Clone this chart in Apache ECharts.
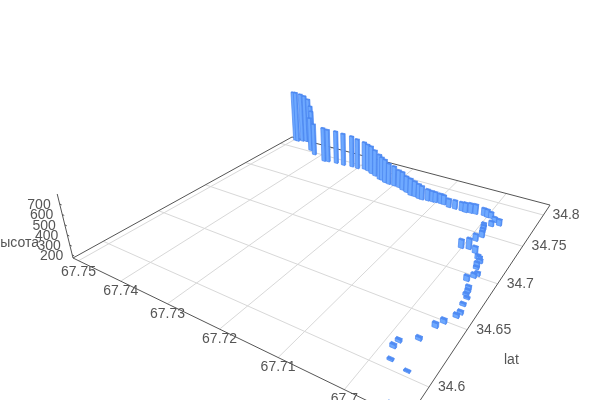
<!DOCTYPE html><html><head><meta charset="utf-8"><style>html,body{margin:0;background:#fff}#c{width:600px;height:400px}</style>
<script src="https://cdn.jsdelivr.net/npm/echarts@6/dist/echarts.min.js"></script></head><body><div id="c"></div>
<script>
const lngValues=[67.7497,67.7490,67.7481,67.7473,67.7463,67.7456,67.7448,67.7435,67.7415,67.7379,67.7370,67.7351,67.7333,67.7314,67.7300,67.7286,67.7276,67.7264,67.7252,67.7237,
67.7231,67.7221,67.7211,67.7199,67.7188,67.7177,67.7166,67.7154,67.7145,67.7135,67.7128,67.7117,67.7108,67.7102,67.7092,67.7085,67.7073,67.7061,67.7048,67.7040,
67.7031,67.7022,67.7007,67.7000,67.6993,67.6983,67.6972,67.6983,67.6993,67.6990,67.6988,67.6984,67.6989,67.6989,67.7001,67.6976,67.6966,67.6962,67.6959,67.6959,
67.6958,67.6950,67.6953,67.6959,67.6949,67.6947,67.6946,67.6942,67.6941,67.6937,67.6939,67.6949,67.6955,67.6963,67.6984,67.6985,67.6977,67.6950,67.6944];
const latValues=[34.8143,34.8140,34.8164,34.8177,34.8176,34.8167,34.8132,34.8031,34.7971,34.7905,34.7915,34.7927,34.7927,34.7941,34.7937,34.7957,34.7945,34.7916,34.7894,34.7860,
34.7856,34.7833,34.7824,34.7823,34.7817,34.7794,34.7776,34.7749,34.7748,34.7735,34.7733,34.7742,34.7746,34.7751,34.7754,34.7753,34.7734,34.7736,34.7737,34.7731,
34.7742,34.7748,34.7757,34.7749,34.7751,34.7710,34.7682,34.7642,34.7603,34.7563,34.7521,34.7465,34.7398,34.7275,34.7260,34.7252,34.7195,34.7182,34.7159,34.7101,
34.7083,34.7018,34.6985,34.6930,34.6858,34.6827,34.6787,34.6761,34.6689,34.6609,34.6569,34.6485,34.6426,34.6284,34.6211,34.6156,34.6064,34.6037,34.5815];
const heightValues=[788,792,771,753,722,645,604,577,551,574,560,558,551,537,521,493,485,493,472,458,
437,436,408,393,367,374,350,357,340,331,321,294,286,281,275,272,261,262,261,271,
272,272,249,252,233,222,234,221,211,218,218,231,238,278,255,236,212,212,205,221,
194,204,211,221,200,193,193,186,193,199,202,208,213,198,195,201,185,180,165];
const lngTicks=[67.7,67.71,67.72,67.73,67.74,67.75];
const latTicks=[34.6,34.65,34.7,34.75,34.8];
const heightTicks=[200,300,400,500,600,700];
const lngExtent=[67.6916,67.7514],latExtent=[34.576,34.818],heightExtent=[169,794];

// perspective view of the 3D box
const H={a:214.9,b:352.4,c:73,d:39.1,e:-58.4,f:258,g:-.2927,h:.4568,vx:368,vy:1454,lam:-.0508};
const toU=l=>(lngExtent[1]-l)/(lngExtent[1]-lngExtent[0]);
const toV=l=>(l-latExtent[0])/(latExtent[1]-latExtent[0]);
const toW=z=>(z-heightExtent[0])/(heightExtent[1]-heightExtent[0]);
function proj(u,v,w){const L=H.lam*w,W=H.g*u+H.h*v+1+L;
 return [(H.a*u+H.b*v+H.c+H.vx*L)/W,(H.d*u+H.e*v+H.f+H.vy*L)/W];}
const depth=(lng,lat)=>H.g*toU(lng)+H.h*toV(lat);
const barTable=lngValues.map((l,i)=>[l,latValues[i],heightValues[i]]).sort((p,q)=>depth(q[0],q[1])-depth(p[0],p[1]));

const GRID='#d8d8d8',AXIS='#555',TXT='#555',FF='"Liberation Sans",Arial,sans-serif',FONT='14px '+FF;
const line=(p,q,c,w)=>({type:'line',silent:true,shape:{x1:p[0],y1:p[1],x2:q[0],y2:q[1]},style:{stroke:c,lineWidth:w}});
const text=(s,x,y,align)=>({type:'text',silent:true,style:{text:s,x,y,align,verticalAlign:'middle',fill:TXT,font:FONT}});
const BU=.0068,BV=.0035;
function renderBar(params,api){
 const u=toU(api.value(0)),v=toV(api.value(1)),w=toW(api.value(2));
 const c=(du,dv,t)=>proj(u+du*BU,v+dv*BV,t);
 const face=(pts,fill)=>({type:'polygon',silent:true,shape:{points:pts},style:{fill,stroke:'#4a86f0',lineWidth:.7}});
 return {type:'group',children:[
  face([c(1,-1,0),c(1,1,0),c(1,1,w),c(1,-1,w)],'#5a97fa'),
  face([c(-1,-1,0),c(1,-1,0),c(1,-1,w),c(-1,-1,w)],'#6ea9ff'),
  face([c(-1,-1,w),c(1,-1,w),c(1,1,w),c(-1,1,w)],'#4f8cf5')]};
}
const option={animation:false,backgroundColor:'#fff',series:[
 {type:'custom',coordinateSystem:'none',silent:true,z:1,data:lngTicks,renderItem(p,api){
   const l=api.value(0),u=toU(l),q=proj(u,0,0);
   return {type:'group',children:[line(proj(u,1,0),q,GRID,1),text(String(l),q[0]+0,q[1]+(l===67.75?11:10),'center')]};}},
 {type:'custom',coordinateSystem:'none',silent:true,z:1,data:latTicks,renderItem(p,api){
   const l=api.value(0),v=toV(l),q=proj(1,v,0);
   return {type:'group',children:[line(proj(0,v,0),q,GRID,1),text(String(l),q[0]+9,q[1],'left')]};}},
 {type:'custom',coordinateSystem:'none',silent:true,z:2,data:[0],renderItem(){
   const A=proj(0,0,0),C=proj(1,0,0),B=proj(1,1,0),D=proj(0,1,0);
   return {type:'group',children:[line(A,C,AXIS,1),line(C,B,AXIS,1),line(B,D,AXIS,1),line(D,A,AXIS,1),line(A,proj(0,0,1),AXIS,1),
     text('lat',504,360.5,'left'),
     text('высота',39,243,'right')]};}},
 {type:'custom',coordinateSystem:'none',silent:true,z:2,data:heightTicks,renderItem(p,api){
   const z=api.value(0),w=toW(z),q=proj(0,0,w);
   return {type:'group',children:[line(q,proj(.008,0,w),AXIS,1),text(String(z),q[0]-9,q[1]+1,'right')]};}},
 {type:'custom',coordinateSystem:'none',silent:true,z:3,data:barTable,renderItem:renderBar}
]};
echarts.init(document.getElementById('c')).setOption(option);
</script></body></html>
